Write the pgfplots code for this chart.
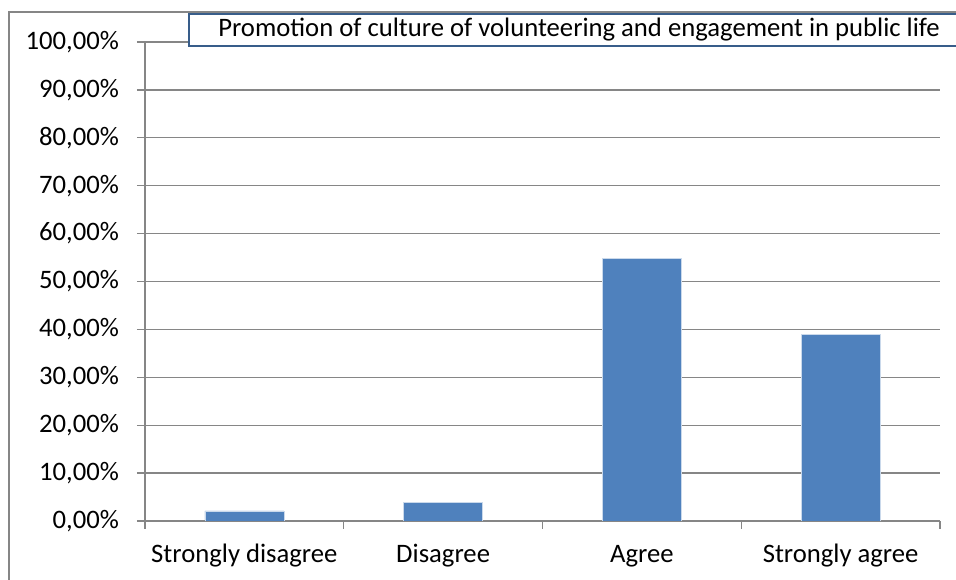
\documentclass[border=0pt]{standalone}
\usepackage{pgfplots}
\pgfplotsset{compat=1.18}
\usepackage{fontspec}
\setmainfont{Carlito}
\definecolor{barblue}{RGB}{79,129,189}
\definecolor{gridgray}{RGB}{134,134,134}
\definecolor{boxblue}{RGB}{56,93,138}
\begin{document}
\begin{tikzpicture}[x=1pt,y=1pt]
\useasboundingbox (0,0) rectangle (717,435);
\draw[gridgray, line width=1pt] (6.75,-10) -- (6.75,426) -- (730,426);
\begin{axis}[
  at={(108.75pt,44.25pt)}, anchor=south west,
  scale only axis, width=596.25pt, height=359.25pt,
  xmin=-0.5, xmax=3.5, ymin=0, ymax=100,
  axis x line*=bottom, axis y line*=left,
  axis line style={gridgray, line width=1pt},
  ybar, bar width=59.25pt,
  xtick={-0.5,0.5,1.5,2.5,3.5}, xticklabels={},
  extra x ticks={0,1,2,3},
  extra x tick labels={Strongly disagree,Disagree,Agree,Strongly agree},
  extra x tick style={major tick length=0pt, grid=none,
    xticklabel style={anchor=base, yshift=-31.5pt}},
  ytick={0,10,...,100},
  ymajorgrids, grid style={gridgray, line width=1pt},
  tick align=outside, major tick length=6pt,
  tick style={gridgray, line width=1pt},
  /pgf/number format/assume math mode=true,
  yticklabel={\pgfmathprintnumber[fixed,fixed zerofill,precision=2,use comma]{\tick}\%},
  tick label style={font=\fontsize{20}{24}\selectfont, black},
  yticklabel style={xshift=-10pt},
  title={Promotion of culture of volunteering and engagement in public life},
  title style={at={(0.546,1)}, anchor=center, yshift=3pt, draw=boxblue, line width=1.5pt,
    fill=white, minimum width=585pt, minimum height=24pt, inner sep=0pt,
    font=\fontsize{20}{24}\selectfont},
]
\addplot[fill=barblue, draw=white!70!barblue, line width=0.5pt] coordinates {(0,2.1) (1,3.8) (2,54.9) (3,39.0)};
\end{axis}
\end{tikzpicture}
\end{document}
